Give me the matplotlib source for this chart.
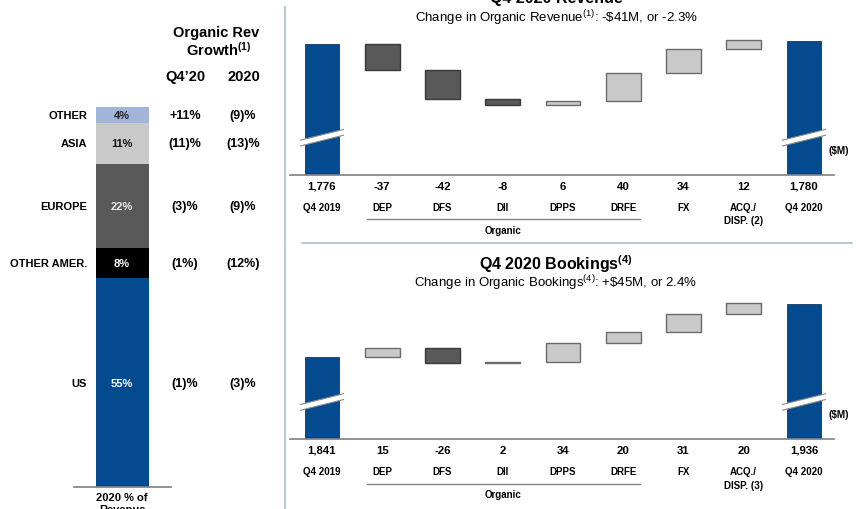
import numpy as np
import matplotlib
matplotlib.use("Agg")
import matplotlib.pyplot as plt
from matplotlib import transforms
from matplotlib.patches import Polygon

plt.rcParams['font.family'] = ['Liberation Sans', 'DejaVu Sans']
plt.rcParams['mathtext.fontset'] = 'custom'
plt.rcParams['mathtext.rm'] = 'Liberation Sans'
plt.rcParams['mathtext.bf'] = 'Liberation Sans:bold'
plt.rcParams['mathtext.default'] = 'regular'

# ---- data ----
regions = ['OTHER', 'ASIA', 'EUROPE', 'OTHER AMER.', 'US']
region_share = [4, 11, 22, 8, 55]
growth_q4 = ['+11%', '(11)%', '(3)%', '(1%)', '(1)%']
growth_fy = ['(9)%', '(13)%', '(9)%', '(12%)', '(3)%']

cats_rev = ['Q4 2019', 'DEP', 'DFS', 'DII', 'DPPS', 'DRFE', 'FX', 'ACQ./\nDISP. (2)', 'Q4 2020']
rev_start = 1776
rev_deltas = [-37, -42, -8, 6, 40, 34, 12]
rev_end = 1780

cats_book = ['Q4 2019', 'DEP', 'DFS', 'DII', 'DPPS', 'DRFE', 'FX', 'ACQ./\nDISP. (3)', 'Q4 2020']
book_start = 1841
book_deltas = [15, -26, 2, 34, 20, 31, 20]
book_end = 1936

NAVY = '#034a8e'
DARK = '#595959'
LIGHT = '#c9c9c9'
SEP = '#a9bdd1'
region_colors = ['#a3b4da', '#c9c9c9', '#595959', '#000000', NAVY]
region_text = ['#222222', '#111111', '#eeeeee', '#ffffff', '#ffffff']

W, H = 856, 510
fig = plt.figure(figsize=(W / 100, H / 100), dpi=100)


def fx(x):
    return x / W


def fy(y):
    return 1 - y / H


# ---- left panel: stacked share bar ----
ax0 = fig.add_axes([0, fy(488.3), 280 / W, (488.3 - 108.3) / H])
ax0.set_xlim(0, 280)
ax0.set_ylim(0, 100)
ax0.axis('off')
bottoms = np.cumsum([0] + region_share[::-1][:-1])[::-1]
for i, reg in enumerate(regions):
    b = bottoms[i]
    s = region_share[i]
    mid = b + s / 2
    ax0.bar(122, s, width=53, bottom=b, color=region_colors[i], edgecolor='none')
    ax0.text(122, mid, f'{s}%', ha='center', va='center', fontsize=8,
             fontweight='bold', color=region_text[i])
    ax0.text(87, mid, reg, ha='right', va='center', fontsize=8, fontweight='bold')
    ax0.text(185, mid, growth_q4[i], ha='center', va='center', fontsize=9, fontweight='bold')
    ax0.text(243, mid, growth_fy[i], ha='center', va='center', fontsize=9, fontweight='bold')
ax0.plot([74, 171], [0, 0], color='#7f7f7f', lw=1.2, clip_on=False)

fig.text(fx(216), fy(33), 'Organic Rev', ha='center', va='center', fontsize=10.5, fontweight='bold')
fig.text(fx(219), fy(50), r'Growth$^{(1)}$', ha='center', va='center', fontsize=10.5, fontweight='bold')
fig.text(fx(185), fy(77), "Q4\u201920", ha='center', va='center', fontsize=10.5, fontweight='bold')
fig.text(fx(244), fy(77), '2020', ha='center', va='center', fontsize=10.5, fontweight='bold')
fig.text(fx(122), fy(493), '2020 % of\nRevenue', ha='center', va='top', fontsize=8,
         fontweight='bold', linespacing=1.3)

# separators
fig.add_artist(plt.Line2D([fx(284.5), fx(284.5)], [fy(8), fy(510)], color=SEP, lw=1.2))
fig.add_artist(plt.Line2D([fx(302), fx(852)], [fy(243.5), fy(243.5)], color=SEP, lw=1.2))


def waterfall(top_px, base_px, start, deltas, end, cats, ylim):
    ax = fig.add_axes([fx(290), fy(base_px), (834 - 290) / W, (base_px - top_px) / H])
    ax.set_xlim(-0.531, 8.498)
    ax.set_ylim(*ylim)
    ax.axis('off')
    n = len(deltas) + 2
    ax.bar([0, n - 1], [start, end], width=0.58, color=NAVY, edgecolor='#17375e', lw=0.6)
    levels = start + np.cumsum([0] + deltas)
    for i, d in enumerate(deltas):
        ax.bar(i + 1, abs(d), bottom=min(levels[i], levels[i + 1]), width=0.58,
               color=LIGHT if d > 0 else DARK,
               edgecolor='#6b6b6b' if d > 0 else '#3a3a3a', lw=1.0)
    ax.plot([-0.531, 8.498], [ylim[0], ylim[0]], color='#808080', lw=1.2, clip_on=False)

    tr = transforms.blended_transform_factory(ax.transData, fig.transFigure)
    vals = [f'{start:,}'] + [f'{d}' for d in deltas] + [f'{end:,}']
    for i in range(n):
        ax.text(i, fy(base_px + 11), vals[i], transform=tr, ha='center', va='center',
                fontsize=8.2, fontweight='bold')
        ax.text(i, fy(base_px + 27), cats[i], transform=tr, ha='center', va='top',
                fontsize=7, fontweight='bold', linespacing=1.45)
    ax.plot([0.75, 5.28], [fy(base_px + 44.5)] * 2, transform=tr, color='#808080',
            lw=1.0, clip_on=False)
    ax.text(3, fy(base_px + 55), 'Organic', transform=tr, ha='center', va='center',
            fontsize=7, fontweight='bold')
    fig.text(fx(839), fy(base_px - 25), '($M)', ha='center', va='center',
             fontsize=7.2, fontweight='bold')

    # axis break marks on the total bars
    inv = fig.transFigure.inverted()
    for i in [0, n - 1]:
        cx, by = ax.transData.transform((i, ylim[0]))
        cy = by + 37
        hw, slope, th = 21.5, 0.248, 2.9
        up = [(cx - hw, cy - slope * hw + th), (cx + hw, cy + slope * hw + th)]
        lo = [(cx - hw, cy - slope * hw - th), (cx + hw, cy + slope * hw - th)]
        poly = Polygon(inv.transform(up + lo[::-1]), closed=True, facecolor='white',
                       edgecolor='none', transform=fig.transFigure, zorder=5)
        fig.add_artist(poly)
        for edge in (up, lo):
            e = inv.transform(edge)
            fig.add_artist(plt.Line2D(e[:, 0], e[:, 1], color='#8a8a8a', lw=0.8, zorder=6))
    return ax


waterfall(30, 175.7, rev_start, rev_deltas, rev_end, cats_rev, (1589.3, 1797.4))
fig.text(fx(556), fy(-1), 'Q4 2020 Revenue', ha='center', va='center', fontsize=11.5, fontweight='bold')
fig.text(fx(556), fy(18), r'Change in Organic Revenue$^{(1)}$: -\$41M, or -2.3%',
         ha='center', va='center', fontsize=9.5)

waterfall(295, 440, book_start, book_deltas, book_end, cats_book, (1692.7, 1953.9))
fig.text(fx(556), fy(264), r'Q4 2020 Bookings$^{\mathbf{(4)}}$', ha='center', va='center',
         fontsize=11.5, fontweight='bold')
fig.text(fx(556), fy(283), r'Change in Organic Bookings$^{(4)}$: +\$45M, or 2.4%',
         ha='center', va='center', fontsize=9.5)

fig.savefig('out.png', dpi=100, facecolor='white')
